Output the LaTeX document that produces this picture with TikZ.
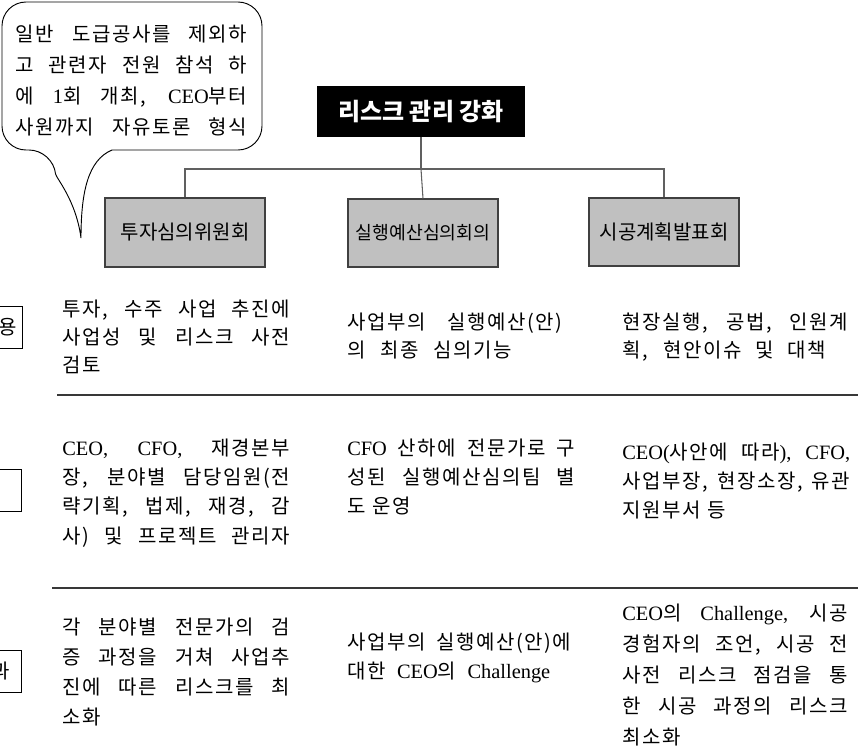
\documentclass[tikz,border=0pt]{standalone}
\usepackage{fontspec}
\setmainfont{Noto Sans CJK KR}
\newfontfamily\bodyf[LetterSpace=8]{Noto Sans CJK KR}
\newfontfamily\latf[Scale=1.02]{Liberation Serif}
\newcommand\lat[1]{{\latf #1}}
\newlength\pxu
\setlength\pxu{0.75pt}
\newcommand\jl[2]{\leavevmode\hbox to #1\pxu{\spaceskip 0.4em plus 1fil minus 0.15em\relax #2}}
\newcommand\widesp{\spaceskip 0.4em plus 0.5em minus 0.1em\relax}
\definecolor{boxgray}{HTML}{C0C0C0}
\definecolor{linegray}{HTML}{606060}
\begin{document}
\begin{tikzpicture}[x=0.75pt,y=-0.75pt,
  txt/.style={anchor=base west, inner sep=0pt, align=left, text width=190pt},
  bodyA/.style={font={\bodyf\fontsize{15pt}{21pt}\selectfont\widesp}},
  bodyB/.style={font={\bodyf\fontsize{15pt}{22pt}\selectfont\widesp}},
  bodyC/.style={font={\bodyf\fontsize{15pt}{22.5pt}\selectfont\widesp}},
  bodyD/.style={font={\bodyf\fontsize{15pt}{21.75pt}\selectfont\widesp}},
  bodyE/.style={font={\bodyf\fontsize{15pt}{23.25pt}\selectfont\widesp}},
  graybox/.style={draw=black!75, line width=0.8pt, fill=boxgray, inner sep=0pt,
    font={\fontsize{15pt}{17pt}\selectfont}, minimum height=51pt},
  conn/.style={draw=linegray, line width=0.8pt},
  rule/.style={draw=black!78, line width=1.5pt},
  lblbox/.style={draw=black, line width=0.6pt, anchor=east, inner ysep=0pt,
    minimum height=31.5pt, font={\bodyf\fontsize{15pt}{17pt}\selectfont}}
]
\useasboundingbox (0,0) rectangle (858,754);

% speech bubble
\draw[line width=0.7pt, fill=white, rounded corners=18]
  (112,150) -- (262,150) -- (262,2) -- (2,2) -- (2,150) -- (53,150)
  [sharp corners] .. controls (56,178) and (76,200) .. (81,238)
  .. controls (81,192) and (88,160) .. (112,150);
\node[txt, bodyE] (bt) at (15,41)
  {\jl{232}{일반 도급공사를 제외하}\\
   \jl{232}{고 관련자 전원 참석 하}\\
   \jl{232}{에 \lat{1}회 개최, \lat{CEO}부터}\\
   \jl{232}{사원까지 자유토론 형식}};

% title
\node[fill=black, text=white, inner sep=0pt, minimum width=156pt, minimum height=38.25pt,
  font={\fontsize{18pt}{20pt}\selectfont\bfseries}] (title) at (421,111.5) {리스크 관리 강화};

% committee boxes
\node[graybox, minimum width=120pt, minimum height=51.75pt] (b1) at (185,232.5) {투자심의위원회};
\node[graybox, minimum width=112.5pt, font={\fontsize{13.7pt}{15pt}\selectfont}] (b2) at (423,233) {실행예산심의회의};
\node[graybox, minimum width=112.5pt] (b3) at (664,232) {시공계획발표회};

\coordinate (bus) at (title.south |- 0,169);
\draw[conn] (title.south) -- (bus);
\draw[conn] (b1.north) |- (bus) -| (b3.north);
\draw[conn] (bus) -- (b2.north);

% row labels (cut off at the left edge)
\node[lblbox, inner xsep=4pt] (l1) at (23,327) {내용};
\node[lblbox, inner xsep=16pt] (l2) at (22,490) {참석자};
\node[lblbox, inner xsep=9pt] (l3) at (22,671) {효과};

% row 1
\node[txt, bodyA] (r1c1) at (62,316)
  {\jl{228}{투자, 수주 사업 추진에}\\
   \jl{228}{사업성 및 리스크 사전}\\
   검토};
\node[txt, bodyA] (r1c2) at (347,329)
  {\jl{215}{사업부의 실행예산(안)}\\
   \jl{165}{의 최종 심의기능}};
\node[txt, bodyA] (r1c3) at (622,329)
  {\jl{226}{현장실행, 공법, 인원계}\\
   \jl{204}{획, 현안이슈 및 대책}};

\coordinate (rule1a) at (57,395);
\coordinate (rule1b) at (858,395);
\draw[rule] (rule1a) -- (rule1b);

% row 2
\node[txt, bodyB] (r2c1) at (62,455)
  {\jl{228}{\lat{CEO,} \lat{CFO,} 재경본부}\\
   \jl{228}{장, 분야별 담당임원(전}\\
   \jl{228}{략기획, 법제, 재경, 감}\\
   \jl{228}{사) 및 프로젝트 관리자}};
\node[txt, bodyB] (r2c2) at (347,455)
  {\jl{228}{\lat{CFO} 산하에 전문가로 구}\\
   \jl{228}{성된 실행예산심의팀 별}\\
   도 운영};
\node[txt, bodyB] (r2c3) at (622,459)
  {\jl{228}{\lat{CEO(}사안에 따라\lat{),} \lat{CFO,}}\\
   \jl{228}{사업부장, 현장소장, 유관}\\
   지원부서 등};

\coordinate (rule2a) at (52,588);
\coordinate (rule2b) at (858,588);
\draw[rule] (rule2a) -- (rule2b);

% row 3
\node[txt, bodyC] (r3c1) at (62,634)
  {\jl{228}{각 분야별 전문가의 검}\\
   \jl{228}{증 과정을 거쳐 사업추}\\
   \jl{228}{진에 따른 리스크를 최}\\
   소화};
\node[txt, bodyD] (r3c2) at (347,649)
  {\jl{224}{사업부의 실행예산(안)에}\\
   \jl{203}{대한 \lat{CEO}의 \lat{Challenge}}};
\node[txt, bodyE] (r3c3) at (622,620)
  {\jl{226}{\lat{CEO}의 \lat{Challenge,} 시공}\\
   \jl{226}{경험자의 조언, 시공 전}\\
   \jl{226}{사전 리스크 점검을 통}\\
   \jl{226}{한 시공 과정의 리스크}\\
   최소화};
\end{tikzpicture}
\end{document}
